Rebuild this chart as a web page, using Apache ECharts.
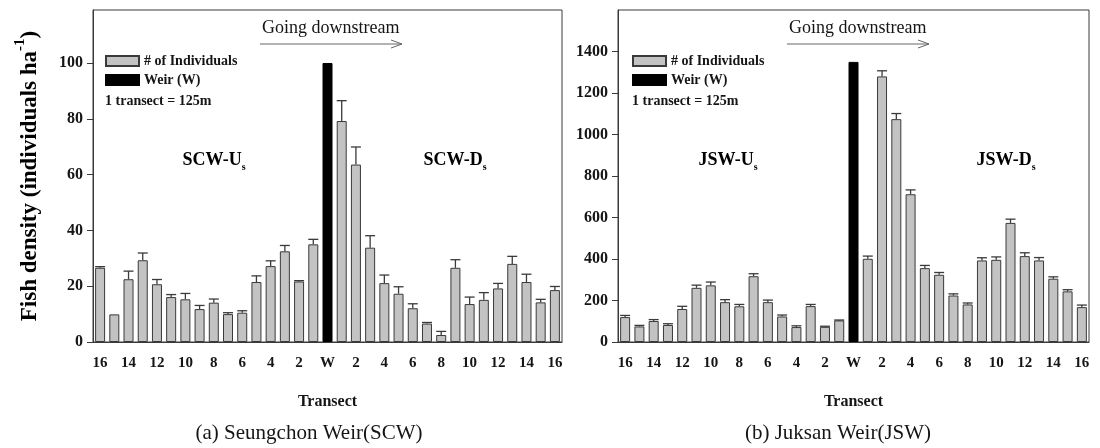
<!DOCTYPE html>
<html>
<head>
<meta charset="utf-8">
<script src="https://cdn.jsdelivr.net/npm/echarts@6/dist/echarts.min.js"></script>
<style>
  html, body { margin: 0; padding: 0; background: #fff; }
  #chart { width: 1100px; height: 448px; }
</style>
</head>
<body>
<div id="chart"></div>
<script>
// transect labels, upstream 16..1, weir, downstream 1..16
const upLabels = ["16","15","14","13","12","11","10","9","8","7","6","5","4","3","2","1"];
const downLabels = ["1","2","3","4","5","6","7","8","9","10","11","12","13","14","15","16"];
const transects = [...upLabels, "W", ...downLabels];
const weirIndex = upLabels.length;

// (a) Seungchon Weir
const scwUp = [26.6, 9.9, 22.5, 29.3, 20.7, 16.1, 15.3, 11.8, 14.1, 10.0, 10.5, 21.5, 27.2, 32.5, 21.7, 35.0];
const scwUpErr = [0.4, 0, 2.9, 2.6, 1.7, 0.9, 2.1, 1.3, 1.3, 0.5, 0.7, 2.2, 1.9, 2.1, 0.3, 1.8];
const scwDown = [79.2, 63.6, 33.8, 21.1, 17.3, 12.1, 6.6, 2.5, 26.6, 13.6, 15.1, 19.2, 28.0, 21.5, 14.2, 18.6];
const scwDownErr = [7.3, 6.3, 4.3, 2.9, 2.5, 1.6, 0.4, 1.3, 2.9, 2.5, 2.6, 1.8, 2.7, 2.8, 1.1, 1.3];
const scwWeir = 100;
const scwTicks = [0, 20, 40, 60, 80, 100];

// (b) Juksan Weir
const jswUp = [120, 75, 101, 82, 159, 261, 273, 192, 172, 317, 192, 123, 72, 173, 73, 104];
const jswUpErr = [8, 5, 7, 6, 13, 13, 16, 12, 9, 12, 10, 7, 6, 8, 3, 2];
const jswDown = [401, 1280, 1074, 712, 356, 324, 224, 181, 393, 396, 574, 414, 393, 305, 244, 168];
const jswDownErr = [13, 27, 27, 21, 13, 11, 8, 7, 13, 14, 18, 16, 14, 9, 8, 10];
const jswWeir = 1350;
const jswTicks = [0, 200, 400, 600, 800, 1000, 1200, 1400];

const FONT = "Liberation Serif";
const INK = "#151515";
const LINE = "#3a3a3a";

const myChart = echarts.init(document.getElementById("chart"));

// bar values with a gap at the weir
function individuals(up, down) {
  return [...up, "-", ...down];
}
function weirBar(v) {
  return transects.map((t, i) => (i === weirIndex ? v : "-"));
}
function errData(up, upErr, down, downErr) {
  const out = [];
  up.forEach((v, i) => out.push([i, v, upErr[i]]));
  down.forEach((v, i) => out.push([weirIndex + 1 + i, v, downErr[i]]));
  return out;
}

// upper error bar with a cap
function renderErr(params, api) {
  const idx = api.value(0), v = api.value(1), e = api.value(2);
  if (!e) return;
  const p0 = api.coord([idx, v]);
  const p1 = api.coord([idx, v + e]);
  const half = 5;
  const style = { stroke: LINE, lineWidth: 1.3 };
  return {
    type: "group",
    children: [
      { type: "line", shape: { x1: p0[0], y1: p0[1], x2: p1[0], y2: p1[1] }, style },
      { type: "line", shape: { x1: p1[0] - half, y1: p1[1], x2: p1[0] + half, y2: p1[1] }, style },
    ],
  };
}

function xAxis(gridIndex) {
  return {
    type: "category",
    gridIndex,
    data: transects,
    name: "Transect",
    nameLocation: "middle",
    nameGap: 52,
    nameTextStyle: { fontFamily: FONT, fontWeight: "bold", fontSize: 16, color: INK },
    axisLine: { lineStyle: { color: LINE, width: 1 } },
    axisTick: { alignWithLabel: true, interval: 0, length: 5, lineStyle: { color: LINE } },
    axisLabel: { interval: 1, margin: 14, fontFamily: FONT, fontWeight: "bold", fontSize: 15, color: INK },
    splitLine: { show: false },
  };
}
function yAxis(gridIndex, max, interval, ticks) {
  return {
    type: "value",
    gridIndex,
    min: 0,
    max,
    interval,
    axisLine: { show: true, lineStyle: { color: LINE, width: 1 } },
    axisTick: { show: true, length: 6, customValues: ticks, lineStyle: { color: LINE } },
    axisLabel: {
      customValues: ticks,
      formatter: (v) => String(v),
      margin: 10,
      fontFamily: FONT, fontWeight: "bold", fontSize: 16, color: INK,
    },
    splitLine: { show: false },
  };
}
function legend(left) {
  return {
    data: ["# of Individuals", "Weir (W)"],
    orient: "vertical",
    left,
    top: 54,
    padding: 0,
    itemWidth: 33,
    itemHeight: 10,
    itemGap: 5,
    icon: "rect",
    selectedMode: false,
    textStyle: { fontFamily: FONT, fontWeight: "bold", fontSize: 14, color: INK },
  };
}
function barSeries(gridIndex, up, down, weir) {
  return [
    {
      name: "# of Individuals",
      type: "bar",
      xAxisIndex: gridIndex,
      yAxisIndex: gridIndex,
      data: individuals(up, down),
      barWidth: 10,
      barGap: "-100%",
      itemStyle: { color: "#c3c3c3", borderColor: LINE, borderWidth: 1 },
      silent: true,
    },
    {
      name: "Weir (W)",
      type: "bar",
      xAxisIndex: gridIndex,
      yAxisIndex: gridIndex,
      data: weirBar(weir),
      barWidth: 10,
      barGap: "-100%",
      itemStyle: { color: "#000", borderColor: "#000", borderWidth: 1 },
      silent: true,
    },
  ];
}
function errSeries(gridIndex, data) {
  return {
    type: "custom",
    xAxisIndex: gridIndex,
    yAxisIndex: gridIndex,
    data,
    encode: { x: 0, y: 1 },
    renderItem: renderErr,
    silent: true,
    z: 3,
  };
}
function label(x, y, main) {
  return {
    type: "text",
    x, y,
    style: {
      text: "{t|" + main + "}{s|s}",
      align: "center",
      verticalAlign: "middle",
      rich: {
        t: { fontFamily: FONT, fontWeight: "bold", fontSize: 18, color: INK, lineHeight: 24 },
        s: { fontFamily: FONT, fontWeight: "bold", fontSize: 10, color: INK, lineHeight: 10, verticalAlign: "bottom" },
      },
    },
  };
}
function downstream(x, endX) {
  return [
    { type: "text", x: x + 2, y: 28, style: { text: "Going downstream", fontFamily: FONT, fontSize: 18, fill: INK, verticalAlign: "middle" } },
    { type: "line", shape: { x1: x, y1: 44, x2: endX, y2: 44 }, style: { stroke: "#666", lineWidth: 1 } },
    { type: "polyline", shape: { points: [[endX - 11, 40], [endX, 44], [endX - 11, 48]] }, style: { stroke: "#666", lineWidth: 1, fill: null } },
  ];
}
function note(x) {
  return { type: "text", x, y: 101, style: { text: "1 transect = 125m", fontFamily: FONT, fontWeight: "bold", fontSize: 14, fill: INK, verticalAlign: "middle" } };
}
function caption(x, text) {
  return { type: "text", x, y: 433, style: { text, fontFamily: FONT, fontSize: 21, fill: INK, align: "center", verticalAlign: "middle" } };
}

const option = {
  backgroundColor: "#fff",
  animation: false,
  grid: [
    { left: 93, top: 10, width: 469, height: 332, show: true, borderColor: LINE, borderWidth: 1 },
    { left: 618, top: 10, width: 471, height: 332, show: true, borderColor: LINE, borderWidth: 1 },
  ],
  xAxis: [xAxis(0), xAxis(1)],
  yAxis: [yAxis(0, 119, 20, scwTicks), yAxis(1, 1600, 200, jswTicks)],
  legend: [legend(105), legend(632)],
  series: [
    ...barSeries(0, scwUp, scwDown, scwWeir),
    errSeries(0, errData(scwUp, scwUpErr, scwDown, scwDownErr)),
    ...barSeries(1, jswUp, jswDown, jswWeir),
    errSeries(1, errData(jswUp, jswUpErr, jswDown, jswDownErr)),
  ],
  graphic: [
    {
      type: "text",
      x: 30,
      y: 176,
      rotation: Math.PI / 2,
      style: {
        text: "{t|Fish density (individuals ha}{p|-1}{t|)}",
        align: "center",
        verticalAlign: "middle",
        rich: {
          t: { fontFamily: FONT, fontWeight: "bold", fontSize: 23, color: INK, lineHeight: 34 },
          p: { fontFamily: FONT, fontWeight: "bold", fontSize: 15, color: INK, lineHeight: 14, verticalAlign: "top" },
        },
      },
    },
    label(214, 160, "SCW-U"),
    label(455, 160, "SCW-D"),
    label(728, 160, "JSW-U"),
    label(1006, 160, "JSW-D"),
    ...downstream(260, 402),
    ...downstream(787, 929),
    note(105),
    note(632),
    caption(309, "(a) Seungchon Weir(SCW)"),
    caption(838, "(b) Juksan Weir(JSW)"),
  ],
};

myChart.setOption(option);
</script>
</body>
</html>
